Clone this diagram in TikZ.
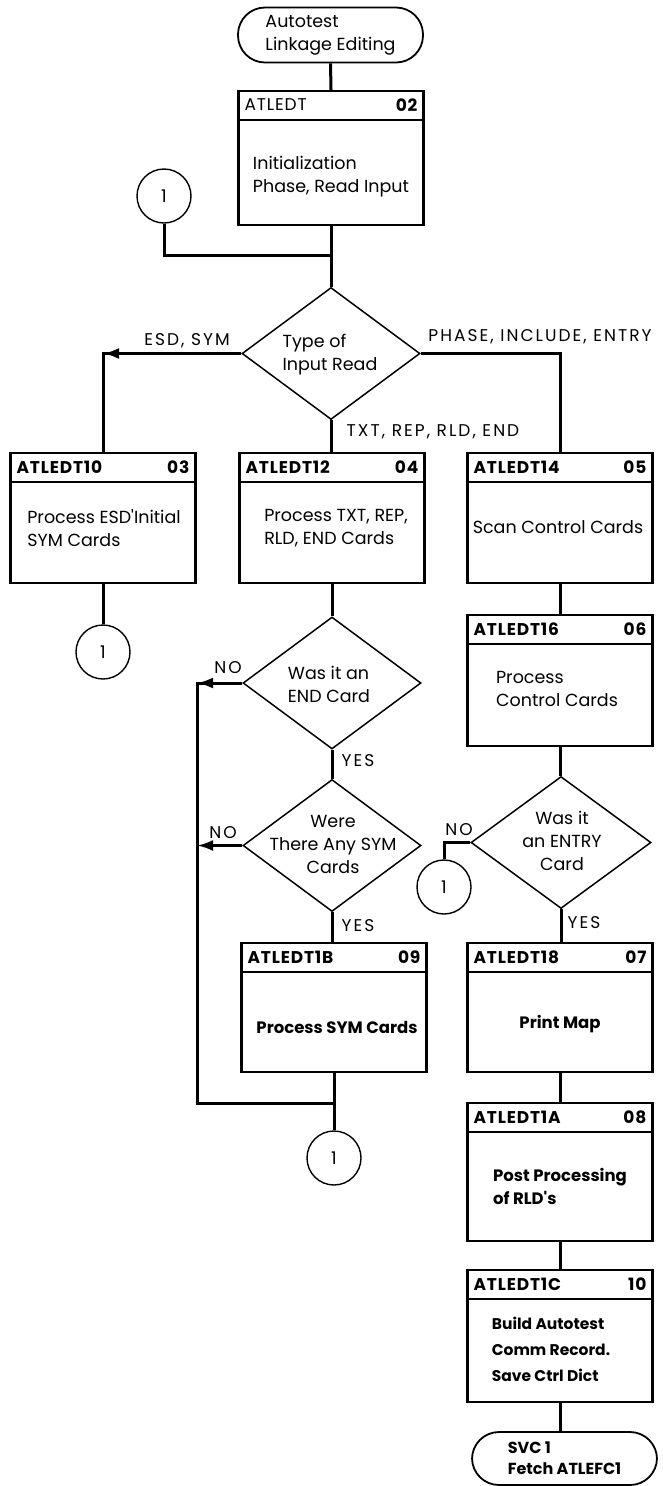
\documentclass[tikz,border=0pt]{standalone}
\usepackage{fontspec}
\newfontfamily\ff{Poppins}
\newfontfamily\ffw{Poppins}[LetterSpace=12]
\newfontfamily\ffh{Poppins}[LetterSpace=5]
\usetikzlibrary{shapes.geometric,arrows.meta}
\newcommand{\boxhead}[4][\bfseries]{%
  \draw[hline] ([yshift=-30pt]#2.north west) -- ([yshift=-30pt]#2.north east);
  \node[hd,font=\ffh#1\fontsize{17}{20}\selectfont,anchor=west] (#2n) at ([xshift=7pt,yshift=-15pt]#2.north west) {#3};
  \node[hd,anchor=east] (#2k) at ([xshift=-7pt,yshift=-15pt]#2.north east) {#4};}
\begin{document}
\begin{tikzpicture}[x=1pt,y=-1pt,line join=miter,
  every node/.style={font=\ff\fontsize{17.5}{23}\selectfont},
  box/.style={draw,line width=2.2pt,minimum width=185pt,minimum height=130pt,inner sep=0pt},
  hline/.style={line width=2pt},
  term/.style={draw,line width=1.8pt,rounded corners=27pt,minimum width=185pt,minimum height=55pt,inner sep=0pt,align=left},
  dia/.style={draw,diamond,line width=1.5pt,minimum width=178pt,minimum height=132pt,inner sep=0pt},
  conn/.style={line width=3pt},
  circ/.style={draw,circle,line width=1.4pt,minimum size=54pt,inner sep=0pt},
  tip/.style={-{Latex[length=16pt,width=11pt]}},
  lbl/.style={inner sep=0pt,font=\ffw\fontsize{17}{20}\selectfont},
  hd/.style={inner sep=0pt,font=\ffh\bfseries\fontsize{17}{20}\selectfont},
  bodytxt/.style={inner sep=0pt,align=left},
  boldtxt/.style={inner sep=0pt,align=left,font=\ff\bfseries\fontsize{16.5}{23}\selectfont},
  dtxt/.style={inner sep=0pt,align=center}]
\fill[white] (0,0) rectangle (663,1486);
\useasboundingbox (0,0) rectangle (663,1486);

% terminals
\node[term] (start) at (330.5,35) {Autotest\\Linkage Editing};
\node[term,minimum height=53pt,font=\ff\bfseries\fontsize{16}{21}\selectfont] (end) at (564.5,1458.5) {SVC 1\\Fetch ATLEFC1};

% boxes
\node[box,minimum height=134pt] (b02) at (331,158) {};
\boxhead[\mdseries]{b02}{ATLEDT}{02}
\node[bodytxt] (b02t) at (331,176.5) {Initialization\\Phase, Read Input};

\node[box] (b03) at (103,518) {};
\boxhead{b03}{ATLEDT10}{03}
\node[bodytxt] (b03t) at (104,528.5) {Process ESD'Initial\\SYM Cards};

\node[box] (b04) at (332,518) {};
\boxhead{b04}{ATLEDT12}{04}
\node[bodytxt] (b04t) at (336,528.5) {Process TXT, REP,\\RLD, END Cards};

\node[box] (b05) at (560,518) {};
\boxhead{b05}{ATLEDT14}{05}
\node[bodytxt] (b05t) at (558,527) {Scan Control Cards};

\node[box,minimum height=131pt] (b06) at (560,680.5) {};
\boxhead{b06}{ATLEDT16}{06}
\node[bodytxt] (b06t) at (557,688.5) {Process\\Control Cards};

\node[box,minimum height=129pt] (b09) at (334,1007.5) {};
\boxhead{b09}{ATLEDT1B}{09}
\node[boldtxt] (b09t) at (337,1027) {Process SYM Cards};

\node[box,minimum height=129pt] (b07) at (560,1007.5) {};
\boxhead{b07}{ATLEDT18}{07}
\node[boldtxt] (b07t) at (560,1024) {Print Map};

\node[box,minimum height=138pt] (b08) at (560,1172) {};
\boxhead{b08}{ATLEDT1A}{08}
\node[boldtxt] (b08t) at (560,1186.5) {Post Processing\\of RLD's};

\node[box,minimum height=132pt] (b10) at (560,1336) {};
\boxhead{b10}{ATLEDT1C}{10}
\node[boldtxt,font=\ff\bfseries\fontsize{15.5}{26}\selectfont] (b10t) at (551,1349) {Build Autotest\\Comm Record.\\Save Ctrl Dict};

% decisions
\node[dia] (d1) at (331,353.5) {};
\node[bodytxt] (d1t) at (330,354.5) {Type of\\Input Read};
\node[dia] (d2) at (332,683) {};
\node[bodytxt] (d2t) at (329,684) {Was it an\\END Card};
\node[dia] (d3) at (332,845.5) {};
\node[dtxt] (d3t) at (333,844) {Were\\There Any SYM\\Cards};
\node[dia,minimum width=180pt] (d4) at (561,842.5) {};
\node[dtxt] (d4t) at (562,841) {Was it\\an ENTRY\\Card};

% connectors (circles)
\node[circ] (c1) at (164,196) {1};
\node[circ] (c2) at (103,652) {1};
\node[circ] (c3) at (334,1158) {1};
\node[circ] (c4) at (444,887) {1};

% labels
\node[lbl] (l1) at (187,341) {ESD, SYM};
\node[lbl] (l2) at (540,337) {PHASE, INCLUDE, ENTRY};
\node[lbl] (l3) at (433,432) {TXT, REP, RLD, END};
\node[lbl] (no1) at (228,668) {NO};
\node[lbl] (yes1) at (358,761) {YES};
\node[lbl] (no2) at (223,833) {NO};
\node[lbl] (yes2) at (358,926) {YES};
\node[lbl] (no3) at (459,830) {NO};
\node[lbl] (yes3) at (584,923) {YES};

% junction coordinates
\coordinate (j1) at (331,255);
\coordinate (k1) at (103,353.5);
\coordinate (k2) at (197,683);
\coordinate (j3) at (334,1103);

% lines
\draw[conn] (start.south) -- (b02.north);
\draw[conn] (b02.south) -- (d1.north);
\draw[conn] (c1.south) |- (j1);
\draw[conn] (d1.west) -| (b03.north);
\draw[conn,tip] (d1.west) -- (k1);
\draw[conn] (d1.east) -| (b05.north);
\draw[conn] (d1.south) -- (d1.south |- b04.north);
\draw[conn] (b03.south) -- (c2.north);
\draw[conn] (b04.south) -- (d2.north);
\draw[conn] (d2.west) -- (k2) |- (j3);
\draw[conn,tip] (d2.west) -- (k2);
\draw[conn] (d2.south) -- (d3.north);
\draw[conn,tip] (d3.west) -- (d3.west -| k2);
\draw[conn] (d3.south) -- (d3.south |- b09.north);
\draw[conn] (b09.south) -- (c3.north);
\draw[conn] (b05.south) -- (b06.north);
\draw[conn] (b06.south) -- (b06.south |- d4.north);
\draw[conn] (d4.west) -| (c4.north);
\draw[conn] (d4.south) -- (d4.south |- b07.north);
\draw[conn] (b07.south) -- (b08.north);
\draw[conn] (b08.south) -- (b10.north);
\draw[conn] (b10.south) -- (b10.south |- end.north);
\end{tikzpicture}
\end{document}
